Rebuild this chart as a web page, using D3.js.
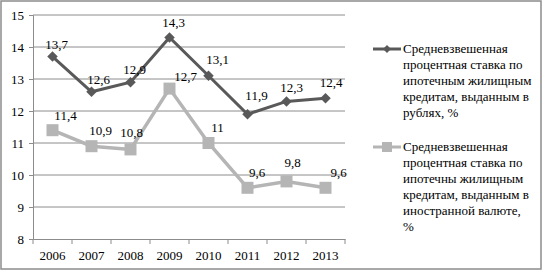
<!DOCTYPE html>
<html><head><meta charset="utf-8">
<script src="https://cdn.jsdelivr.net/npm/d3@7"></script>
<style>body{margin:0;background:#fff}svg{display:block}</style>
</head><body>
<svg id="c" width="543" height="271" font-family="Liberation Serif"></svg>
<script>
const years = ["2006","2007","2008","2009","2010","2011","2012","2013"];
const rubValues = [13.7,12.6,12.9,14.3,13.1,11.9,12.3,12.4];
const fxValues = [11.4,10.9,10.8,12.7,11.0,9.6,9.8,9.6];
const yTicks = [8,9,10,11,12,13,14,15];
const rubLegend = ["Средневзвешенная","процентная ставка по","ипотечным жилищным","кредитам, выданным в","рублях, %"];
const fxLegend = ["Средневзвешенная","процентная ставка по","ипотечны жилищным","кредитам, выданным в","иностранной валюте,","%"];

// label offsets (layout, not data)
const rubLblDx = [4,7,4,4,9,9,5,5.5];
const rubLblDy = [-8,-8,-8,-10,-12,-14,-9,-11];
const fxLblDx = [13,9,1,16,9,9.5,6,13];
const fxLblDy = [-10,-11,-12,-8,-11,-11,-14,-11];

const FONT = "Liberation Serif";
const svg = d3.select("#c");
svg.append("rect").attr("x",1).attr("y",1).attr("width",540).attr("height",268)
  .attr("fill","#fff").attr("stroke","#8c8c8c").attr("stroke-width",1.5);

const x = d3.scaleBand().domain(years).range([33,345]);
const y = d3.scaleLinear().domain([8,15]).range([239,15]);

svg.append("g").selectAll("line").data(yTicks.filter(d=>d>8)).join("line")
  .attr("x1",33).attr("x2",345).attr("y1",d=>y(d)).attr("y2",d=>y(d))
  .attr("stroke","#8c8c8c").attr("stroke-width",1);

const yAxis = svg.append("g").attr("transform","translate(33,0)")
  .call(d3.axisLeft(y).tickValues(yTicks).tickSize(4).tickFormat(d3.format("d")));
yAxis.attr("font-family",FONT).attr("font-size",13);
yAxis.select(".domain").attr("stroke","#8c8c8c");
yAxis.selectAll(".tick line").attr("stroke","#8c8c8c");
yAxis.selectAll("text").attr("font-family",FONT).attr("font-size",13).attr("fill","#000").attr("dx",-2);

const xAxis = svg.append("g").attr("transform","translate(0,239)")
  .call(d3.axisBottom(x).tickSize(0).tickPadding(12));
xAxis.attr("font-family",FONT).attr("font-size",13);
xAxis.select(".domain").attr("stroke","#8c8c8c");
xAxis.selectAll("text").attr("font-family",FONT).attr("font-size",13).attr("fill","#000");
svg.append("g").selectAll("line").data(d3.range(years.length+1)).join("line")
  .attr("x1",i=>33+i*x.step()).attr("x2",i=>33+i*x.step()).attr("y1",239).attr("y2",244)
  .attr("stroke","#8c8c8c");

const cx = d => x(d)+x.bandwidth()/2;
const line = d3.line().x((d,i)=>cx(years[i])).y(d=>y(d));

const darkC = "#595959", lightC = "#b5b5b5";
svg.append("path").datum(fxValues).attr("d",line).attr("fill","none").attr("stroke",lightC).attr("stroke-width",3.5);
svg.append("path").datum(rubValues).attr("d",line).attr("fill","none").attr("stroke",darkC).attr("stroke-width",3);

svg.append("g").selectAll("rect").data(fxValues).join("rect")
  .attr("x",(d,i)=>cx(years[i])-6).attr("y",d=>y(d)-6).attr("width",12).attr("height",12).attr("fill",lightC);
svg.append("g").selectAll("path").data(rubValues).join("path")
  .attr("d",d3.symbol(d3.symbolDiamond2,70)).attr("transform",(d,i)=>`translate(${cx(years[i])},${y(d)})`).attr("fill",darkC);

const fmt = d => String(d).replace(".",",");
svg.append("g").selectAll("text").data(rubValues).join("text")
  .attr("x",(d,i)=>cx(years[i])+rubLblDx[i]).attr("y",(d,i)=>y(d)+rubLblDy[i])
  .attr("text-anchor","middle").attr("font-family",FONT).attr("font-size",13).text(fmt);
svg.append("g").selectAll("text").data(fxValues).join("text")
  .attr("x",(d,i)=>cx(years[i])+fxLblDx[i]).attr("y",(d,i)=>y(d)+fxLblDy[i])
  .attr("text-anchor","middle").attr("font-family",FONT).attr("font-size",13).text(fmt);

function legend(lines, top, color, marker){
  const g = svg.append("g");
  g.append("line").attr("x1",373).attr("x2",401).attr("y1",top-4).attr("y2",top-4).attr("stroke",color).attr("stroke-width",3);
  if(marker==="d") g.append("path").attr("d",d3.symbol(d3.symbolDiamond2,40)).attr("transform",`translate(387,${top-4})`).attr("fill",color);
  else g.append("rect").attr("x",382).attr("y",top-9).attr("width",10).attr("height",10).attr("fill",color);
  g.selectAll("text").data(lines).join("text").attr("x",403).attr("y",(d,i)=>top+i*16)
    .attr("font-family",FONT).attr("font-size",13).text(d=>d);
}
legend(rubLegend,53,darkC,"d");
legend(fxLegend,151,lightC,"s");
</script>
</body></html>
